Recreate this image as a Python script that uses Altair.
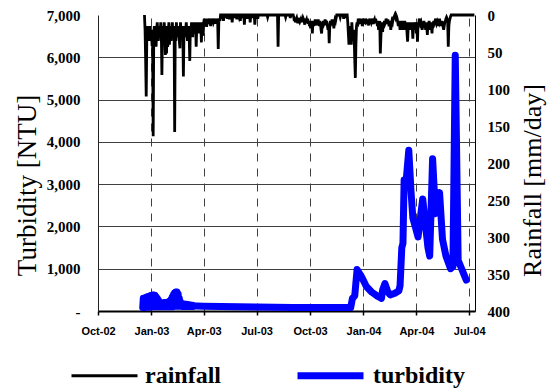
import altair as alt
import pandas as pd

# ---------------- Turbidity (NTU) ----------------
# daily readings for the first wet season (from 2002-12-17)
turb_run1_start = "2002-12-17"
turb_run1 = [
    80, 300, 80, 310, 80, 320, 90, 330, 90, 340,
    90, 350, 90, 360, 100, 370, 100, 380, 100, 380,
    100, 370, 100, 340, 100, 300, 100, 260, 100, 220,
    100, 200, 100, 190, 100, 190, 100, 200, 100, 200,
    100, 200, 100, 210, 100, 220, 100, 240, 100, 280,
    100, 330, 100, 390, 110, 430, 110, 450, 110, 450,
    110, 400, 110, 300, 110, 220, 110, 190, 110, 170,
    110, 170, 110, 160, 110, 160, 110, 150, 110, 150,
    110, 140, 110, 140, 110, 130, 110, 130, 110, 120,
]
# later readings
turb_dates = [
    "2003-03-20", "2003-04-01", "2003-05-01", "2003-07-01", "2003-09-01", "2003-11-01",
    "2003-12-10", "2003-12-13", "2003-12-17", "2003-12-21", "2003-12-29", "2004-01-06",
    "2004-01-15", "2004-01-25", "2004-02-01", "2004-02-03", "2004-02-07", "2004-02-12",
    "2004-02-16", "2004-02-24", "2004-03-02", "2004-03-04", "2004-03-07", "2004-03-09",
    "2004-03-11", "2004-03-14", "2004-03-19", "2004-03-23", "2004-03-26", "2004-03-30",
    "2004-04-04", "2004-04-07", "2004-04-12", "2004-04-17", "2004-04-21", "2004-04-24",
    "2004-04-29", "2004-05-04", "2004-05-08", "2004-05-11", "2004-05-16", "2004-05-22",
    "2004-05-30", "2004-06-03", "2004-06-07", "2004-06-12", "2004-06-26",
]
turb_ntu = [
    120, 115, 105, 95, 85, 80,
    80, 300, 360, 980, 800, 580,
    450, 350, 300, 500, 650, 450,
    380, 420, 480, 600, 1500, 1600,
    3100, 3000, 3800, 2800, 2200, 2000,
    1750, 2100, 2650, 2000, 1500, 1300,
    3600, 2300, 2600, 2800, 1700, 1300,
    1000, 1050, 6050, 1200, 730,
]

# ---------------- Rainfall (mm/day) ----------------
rain_first_day = "2002-12-20"
rain_last_day = "2004-07-10"

rain_run1_start = "2002-12-20"
rain_run1 = [
    0, 20, 60, 110, 30, 15, 25, 35, 30, 20,
    15, 35, 20, 40, 40, 164, 25, 15, 30, 20,
    43, 20, 10, 25, 35, 15, 20, 30, 10, 25,
    81, 20, 15, 30, 10, 25, 54, 20, 52, 15,
    43, 25, 10, 40, 20, 15, 35, 20, 10, 25,
    30, 15, 158, 20, 35, 10, 30, 20, 15, 25,
    35, 45, 10, 25, 30, 15, 20, 83, 25, 15,
    30, 20, 10, 25, 35, 15, 20, 30, 62, 15,
    25, 10, 20, 30, 15, 10, 25, 20, 10, 43,
    15, 20, 10, 25, 15, 10, 20, 15, 37, 10,
    15, 28, 10, 5, 15, 10, 5, 16, 10, 5,
    12, 8, 5, 10, 15, 5, 8, 12, 5, 10,
    8, 5, 12, 6, 10, 5, 8, 46, 10, 5,
    8, 0,
]

rain_run2_start = "2003-09-03"
rain_run2 = [
    3, 8, 5, 10, 6, 4, 8, 11, 5, 7,
    4, 8, 6, 10, 5, 8, 4, 6, 9, 13,
    5, 8, 6, 10, 5, 12, 8, 15, 10, 18,
    12, 8, 25, 10, 15, 8, 12, 6, 10, 14,
    8, 12, 6, 10, 15, 8, 12, 20, 25, 10,
    15, 8, 12, 10, 6, 14, 8, 10, 15, 20,
    12, 38, 15, 8, 12, 10, 6, 14, 8, 18,
    10, 6, 8, 4, 0,
]

rain_run3_start = "2003-12-05"
rain_run3 = [
    10, 25, 40, 15, 30, 20, 40, 10, 25, 35,
    20, 30, 60, 85, 40, 15, 10, 13, 5, 10,
    8, 5, 12, 6, 10, 15, 5, 8, 12, 9,
    10, 5, 8, 12, 6, 10, 14, 8, 5, 12,
    6, 10, 8, 5, 12, 8, 6, 10, 5, 11,
    8, 15, 10, 20, 12, 8, 52, 30, 10, 15,
    23, 10, 15, 8, 12, 10, 5, 8, 12, 6,
    10, 8, 15, 10, 20, 12, 8, 10, 5, 3,
    2, 0, 3, 0, 2, 5, 10, 15, 8, 12,
    20, 10, 15, 8, 12, 20, 10, 15, 8, 12,
    20, 10, 25, 36, 15, 10, 20, 12, 15, 10,
    20, 15, 32, 10, 15, 20, 10, 12, 25, 15,
    36, 10, 15, 5, 8, 12, 10, 15, 20, 10,
    12, 8, 15, 10, 20, 12, 15, 27, 10, 15,
    8, 12, 20, 10, 15, 25, 10, 15, 8, 12,
    10, 5, 8, 12, 10, 15, 8, 10, 5, 13,
    10, 15, 8, 12, 10, 20, 15, 10, 8, 5,
    3, 5, 10, 43, 15, 8, 5, 2, 0,
]

rain_event_dates = [
    "2003-05-02", "2003-05-05", "2003-05-08", "2003-05-12", "2003-05-15", "2003-05-20",
    "2003-05-24", "2003-05-28", "2003-06-01", "2003-06-03", "2003-06-07", "2003-06-10",
    "2003-06-15", "2003-06-20", "2003-06-24", "2003-06-28", "2003-07-03", "2003-07-20",
    "2003-08-07", "2003-08-20", "2003-08-28", "2003-11-22", "2003-11-28", "2003-12-01",
]
rain_event_mm = [
    5, 8, 4, 5, 6, 10,
    4, 6, 3, 8, 4, 13,
    5, 10, 4, 13, 5, 3,
    43, 3, 4, 3, 5, 4,
]

# ---------------- Axes ----------------
x_tick_dates = ["2002-10-01", "2003-01-01", "2003-04-01", "2003-07-01", "2003-10-01",
                "2004-01-01", "2004-04-01", "2004-07-01"]
x_domain = ["2002-10-01", "2004-07-11"]
turb_ticks = [0, 1000, 2000, 3000, 4000, 5000, 6000, 7000]
rain_ticks = [0, 50, 100, 150, 200, 250, 300, 350, 400]
series_names = ["rainfall", "turbidity"]
series_colors = ["#000000", "#0000ff"]
series_widths = [2.8, 7]

# ---------------- Build tables ----------------
days = pd.date_range(rain_first_day, rain_last_day, freq="D")
rain = pd.Series(0.0, index=days)
for start, vals in [(rain_run1_start, rain_run1), (rain_run2_start, rain_run2),
                    (rain_run3_start, rain_run3)]:
    rain.loc[pd.date_range(start, periods=len(vals), freq="D")] = vals
for d, v in zip(rain_event_dates, rain_event_mm):
    rain.loc[pd.Timestamp(d)] = v

rain_df = pd.DataFrame({"date": days.strftime("%Y-%m-%d"), "value": rain.values,
                        "series": "rainfall"})

t_run_days = pd.date_range(turb_run1_start, periods=len(turb_run1), freq="D")
turb_df = pd.DataFrame({
    "date": list(t_run_days.strftime("%Y-%m-%d")) + turb_dates,
    "value": turb_run1 + turb_ntu,
    "series": "turbidity",
})


def dt(s):
    y, m, d = (int(p) for p in s.split("-"))
    return alt.DateTime(year=y, month=m, date=d, utc=True)


SERIF = "Liberation Serif"
SANS = "Liberation Sans"

x_enc = alt.X(
    "date:T",
    scale=alt.Scale(type="utc", domain=[dt(s) for s in x_domain]),
    axis=alt.Axis(
        values=[dt(s) for s in x_tick_dates],
        labelExpr="utcFormat(datum.value, '%b-%y')",
        labelFont=SANS, labelFontSize=11, labelFontWeight="bold", labelColor="#000",
        labelPadding=10, tickSize=4, tickColor="#000", tickWidth=1.5,
        domainColor="#000", domainWidth=2,
        grid=True, gridColor="#404040", gridDash=[8, 7], gridWidth=1,
        title=None, labelFlush=False,
    ),
)

leg = alt.Legend(
    orient="none", legendX=-28, legendY=324, direction="horizontal", title=None,
    symbolType="stroke", symbolSize=4356, labelFont=SERIF, labelFontSize=24,
    labelFontWeight="bold", labelColor="#000", labelOffset=6, columnPadding=62,
    padding=0, rowPadding=0,
)
color_enc = alt.Color("series:N", scale=alt.Scale(domain=series_names, range=series_colors),
                      legend=leg)
sw_enc = alt.StrokeWidth("series:N", scale=alt.Scale(domain=series_names, range=series_widths),
                         legend=leg)

rain_layer = alt.Chart(rain_df).mark_line().encode(
    x=x_enc,
    y=alt.Y("value:Q",
            scale=alt.Scale(domain=[0, 400], reverse=True, nice=False, zero=True),
            axis=alt.Axis(
                orient="right", values=rain_ticks, grid=False,
                labelFont=SERIF, labelFontSize=15, labelFontWeight="bold", labelColor="#000",
                labelPadding=12, ticks=False, tickSize=0, domainColor="#000", domainWidth=1,
                title="Rainfall [mm/day]", titleFont=SERIF, titleFontSize=26,
                titleFontWeight="normal", titleColor="#000", titleAngle=270,
                titleX=57, titleY=165, titleAlign="center", titleBaseline="middle",
            )),
    color=color_enc,
    strokeWidth=sw_enc,
)

turb_layer = alt.Chart(turb_df).mark_line(strokeCap="round", strokeJoin="round").encode(
    x=x_enc,
    y=alt.Y("value:Q",
            scale=alt.Scale(domain=[0, 7000], nice=False),
            axis=alt.Axis(
                orient="left", values=turb_ticks,
                labelExpr="datum.value == 0 ? '-' : format(datum.value, ',')",
                labelFont=SERIF, labelFontSize=15, labelFontWeight="bold", labelColor="#000",
                labelPadding=18, ticks=False, tickSize=0, domainColor="#222", domainWidth=1,
                grid=True, gridColor="#404040", gridWidth=1,
                gridOpacity={"condition": {"test": "datum.value >= 7000", "value": 0}, "value": 1},
                title="Turbidity [NTU]", titleFont=SERIF, titleFontSize=27,
                titleFontWeight="normal", titleColor="#000", titleAngle=270,
                titleX=-71, titleY=170, titleAlign="center", titleBaseline="middle",
            )),
    color=color_enc,
    strokeWidth=sw_enc,
)

chart = (
    alt.layer(rain_layer, turb_layer)
    .resolve_scale(y="independent")
    .properties(
        width=377, height=296,
        autosize=alt.AutoSizeParams(type="none"),
        padding={"left": 90, "top": 7, "right": 72, "bottom": 80},
        background="white",
    )
    .configure_view(stroke=None)
)

chart.save("out.html", embed_options={"renderer": "svg", "actions": False})
